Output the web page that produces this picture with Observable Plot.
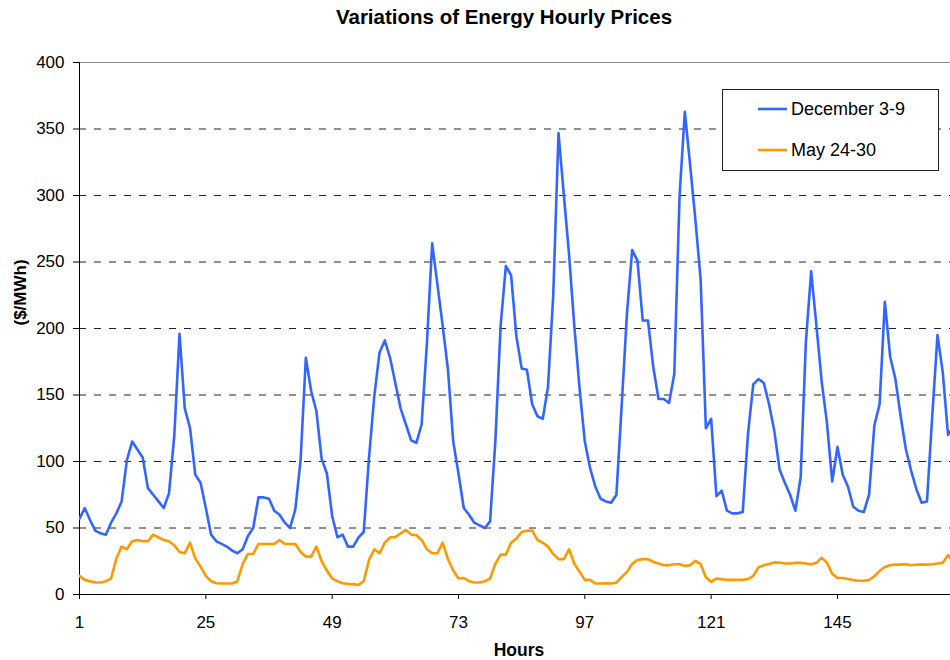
<!DOCTYPE html>
<html>
<head>
<meta charset="utf-8">
<script src="https://cdn.jsdelivr.net/npm/d3@7"></script>
<script src="https://cdn.jsdelivr.net/npm/@observablehq/plot@0.6"></script>
<style>
  html, body { margin: 0; padding: 0; background: #fff; }
  #wrap { position: relative; width: 950px; height: 660px; font-family: "Liberation Sans", Arial, sans-serif; }
  #legend { position: absolute; left: 722px; top: 89px; }
</style>
</head>
<body>
<div id="wrap"></div>
<script>
const title = "Variations of Energy Hourly Prices";
const xLabel = "Hours";
const yLabel = "($/MWh)";
const seriesNames = ["December 3-9", "May 24-30"];
const seriesColors = ["#3366ff", "#ff9900"];
const xTicks = [1, 25, 49, 73, 97, 121, 145];
const yTicks = [0, 50, 100, 150, 200, 250, 300, 350, 400];
const gridValues = [50, 100, 150, 200, 250, 300, 350];

const december = [
  57, 65, 56, 48, 46, 45, 54, 61, 70, 101, 115, 109, 103, 80, 75, 70, 65, 76, 119, 196,
  140, 125, 90, 84, 65, 45, 40, 38, 36, 33, 31, 34, 44, 50, 73, 73, 72, 63, 60, 54,
  50, 64, 101, 178, 153, 138, 102, 91, 59, 43, 45, 36, 36, 43, 47, 103, 149, 182, 191, 178,
  159, 140, 128, 116, 114, 128, 189, 264, 233, 202, 169, 115, 91, 65, 60, 54, 52, 50, 55, 115,
  202, 247, 240, 194, 170, 169, 143, 134, 132, 156, 225, 347, 301, 256, 202, 155, 115, 95, 81, 72,
  70, 69, 75, 142, 211, 259, 251, 206, 206, 171, 147, 147, 144, 166, 300, 363, 323, 282, 237, 125,
  132, 74, 78, 63, 61, 61, 62, 121, 158, 162, 159, 143, 123, 94, 84, 75, 63, 88, 190, 243,
  202, 160, 129, 85, 111, 90, 81, 66, 63, 62, 75, 127, 143, 220, 179, 162, 134, 109, 93, 79,
  69, 70, 134, 195, 167, 120, 126
];
const may = [
  14, 11, 10, 9, 9, 10, 12, 27, 36, 34, 40, 41, 40, 40, 45, 43, 41, 40, 37, 32,
  31, 39, 27, 21, 14, 10, 8.5, 8.3, 8.3, 8.3, 10, 23, 30.5, 30.5, 38, 38, 38, 38, 41, 38,
  38, 38, 32, 28.5, 28.5, 36, 25, 18, 12, 10, 8.5, 8, 7.8, 7.2, 10, 26, 34, 31, 39, 43,
  43, 46, 48.6, 45, 44.5, 41, 34, 31, 31, 39, 26.5, 18, 12, 12.4, 10, 9, 9, 10, 12, 23,
  30, 30, 39, 42, 47, 48, 48, 41, 39, 36, 30.5, 26.6, 26.6, 34, 23.3, 17, 11, 11, 8.3, 8.3,
  8.5, 8.3, 9, 13, 17, 23, 26, 26.6, 26.6, 24.6, 23.3, 22, 22, 22.8, 22.8, 21.5, 22, 25.3, 22.8, 13,
  9.5, 12, 11.5, 11, 11, 11, 11, 11.6, 14, 20.5, 22, 23, 24, 24, 23.3, 23.3, 23.8, 23.8, 23.3, 22.8,
  23.8, 27.7, 24, 15.5, 12.4, 12.4, 11.6, 10.9, 10.3, 10.3, 10.9, 13.7, 17.6, 20.7, 22, 22.5, 22.5, 22.8, 22, 22.5,
  22.5, 22.5, 22.8, 23.3, 23.8, 29.7, 24
];
const hours = december.map((_, i) => i + 1);

const decData = hours.map((h, i) => ({hour: h, price: december[i]}));
const mayData = hours.map((h, i) => ({hour: h, price: may[i]}));

const font = "'Liberation Sans', Arial, sans-serif";

const chart = Plot.plot({
  width: 950,
  height: 660,
  marginLeft: 79,
  marginRight: 0,
  marginTop: 62,
  marginBottom: 66,
  style: {fontFamily: font, fontSize: "17px", color: "#000", background: "#fff", overflow: "visible"},
  x: {domain: [1, 166.47], ticks: xTicks, tickSize: 5, tickPadding: 16, tickFormat: d => String(d), label: null},
  y: {domain: [0, 400], ticks: yTicks, tickSize: 6, tickPadding: 9, tickFormat: d => String(d), label: null},
  marks: [
    Plot.ruleY(gridValues, {stroke: "#222", strokeWidth: 1, strokeDasharray: "7,8"}),
    Plot.ruleY([400], {stroke: "#8a8a8a", strokeWidth: 1}),
    Plot.ruleY([0], {stroke: "#000", strokeWidth: 1}),
    Plot.ruleX([1], {stroke: "#000", strokeWidth: 1}),
    Plot.line(decData, {x: "hour", y: "price", stroke: seriesColors[0], strokeWidth: 2.6, clip: true}),
    Plot.line(mayData, {x: "hour", y: "price", stroke: seriesColors[1], strokeWidth: 2.6, clip: true}),
    Plot.text([title], {text: d => d, frameAnchor: "top", dx: -11, dy: -53, fontSize: 20.5, fontWeight: "bold", fill: "#000"}),
    Plot.text([xLabel], {text: d => d, frameAnchor: "bottom", dx: 4, dy: 61, fontSize: 17.5, fontWeight: "bold", fill: "#000"}),
    Plot.text([yLabel], {text: d => d, frameAnchor: "left", rotate: -90, dx: -59, dy: -3, fontSize: 17, fontWeight: "bold", fill: "#000"})
  ]
});

const wrap = document.getElementById("wrap");
wrap.appendChild(chart);

// legend box
const ns = "http://www.w3.org/2000/svg";
const leg = document.createElementNS(ns, "svg");
leg.setAttribute("id", "legend");
leg.setAttribute("width", 218);
leg.setAttribute("height", 84);
const rect = document.createElementNS(ns, "rect");
rect.setAttribute("x", 0.5); rect.setAttribute("y", 0.5);
rect.setAttribute("width", 216); rect.setAttribute("height", 81);
rect.setAttribute("fill", "#fff"); rect.setAttribute("stroke", "#222"); rect.setAttribute("stroke-width", 1);
leg.appendChild(rect);
seriesNames.forEach((name, i) => {
  const cy = 20 + i * 41;
  const ln = document.createElementNS(ns, "line");
  ln.setAttribute("x1", 36); ln.setAttribute("x2", 65);
  ln.setAttribute("y1", cy); ln.setAttribute("y2", cy);
  ln.setAttribute("stroke", seriesColors[i]); ln.setAttribute("stroke-width", 2.6);
  leg.appendChild(ln);
  const tx = document.createElementNS(ns, "text");
  tx.setAttribute("x", 69); tx.setAttribute("y", cy);
  tx.setAttribute("dy", "0.35em");
  tx.setAttribute("font-family", font);
  tx.setAttribute("font-size", 18);
  tx.setAttribute("fill", "#000");
  tx.textContent = name;
  leg.appendChild(tx);
});
wrap.appendChild(leg);
</script>
</body>
</html>
